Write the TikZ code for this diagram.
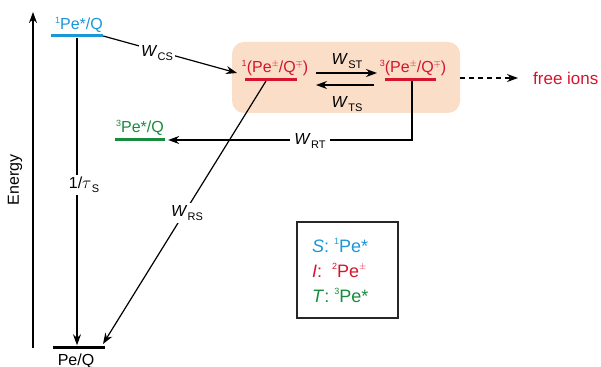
\documentclass[tikz,border=0pt]{standalone}
\usepackage{fontspec}
\setmainfont{Liberation Sans}
\usetikzlibrary{arrows.meta}
\definecolor{cblue}{RGB}{27,150,214}
\definecolor{cred}{RGB}{214,20,45}
\definecolor{cgreen}{RGB}{22,140,60}
\definecolor{cbox}{RGB}{250,222,200}
\newcommand\pre[1]{\raisebox{0.42em}{\fontsize{9}{9}\selectfont #1}}
\newcommand\chg[1]{\raisebox{0.42em}{\fontsize{9}{9}\selectfont$#1$}}
\newcommand\rate[1]{\textit{W}\kern0.3pt\raisebox{-0.28em}{\fontsize{11}{11}\selectfont #1}}
\begin{document}
\begin{tikzpicture}[x=1pt,y=-1pt,
  font=\fontsize{16}{18}\selectfont,
  >={Stealth[length=11pt,width=8pt]},
  level/.style={inner sep=0pt, minimum height=3pt, minimum width=52pt},
  arr/.style={->, line width=1.2pt},
  lab/.style={fill=white, inner sep=2pt},
  txt/.style={inner sep=0pt}]
\useasboundingbox (0,0) rectangle (601,366);

% energy axis
\coordinate (ebot) at (33,348);
\coordinate (etop) at (33,12);
\draw[arr] (ebot) -- (etop);
\node[rotate=90, txt] (energy) at (15,180) {Energy};

% box
\node[fill=cbox, rounded corners=12pt, minimum width=228pt, minimum height=71pt, inner sep=0pt] (box) at (346,77.5) {};

% levels
\node[level, fill=cblue] (s1) at (77,36) {};
\node[txt, text=cblue, anchor=base] (s1t) at (79,30) {\pre{1}Pe*/Q};
\node[level, fill=black] (g) at (79,347) {};
\node[txt, anchor=base] (gt) at (76,365) {Pe/Q};
\node[level, fill=cgreen, minimum width=50pt] (t3) at (140,140) {};
\node[txt, text=cgreen, anchor=base] (t3t) at (140,133) {\pre{3}Pe*/Q};
\node[level, fill=cred] (ip1) at (271,80) {};
\node[txt, text=cred, anchor=base] (ip1t) at (275,73) {\pre{1}(Pe\chg{\pm}/Q\chg{\mp})};
\node[level, fill=cred, minimum width=51pt] (ip3) at (410,80) {};
\node[txt, text=cred, anchor=base] (ip3t) at (413,73) {\pre{3}(Pe\chg{\pm}/Q\chg{\mp})};
\node[txt, text=cred, anchor=west, font=\fontsize{17}{19}\selectfont] (fi) at (533,78) {free ions};

% connectors
\coordinate (cstip) at (237,73);
\draw[arr] (s1.east) -- (cstip);
\node[lab] (wcs) at (157,53) {\rate{CS}};

\draw[arr] (s1.south) -- (s1.south |- g.north);
\node[lab] (tau) at (84,185) {1/$\tau$\kern0.3pt\raisebox{-0.28em}{\fontsize{11}{11}\selectfont S}};

\coordinate (rsstart) at (266,81);
\coordinate (rstip) at (103,344);
\draw[arr] (rsstart) -- (rstip);
\node[lab] (wrs) at (187,213) {\rate{RS}};

\coordinate (rtstart) at (412,81);
\draw[arr] (rtstart) |- ([xshift=3pt]t3.east);
\node[lab, inner sep=4pt] (wrt) at (310,141) {\rate{RT}};

\coordinate (sta) at (316,73);
\coordinate (stb) at (377,73);
\draw[arr] (sta) -- (stb);
\node[txt] (wst) at (347,61) {\rate{ST}};
\coordinate (tsa) at (374,85);
\coordinate (tsb) at (316,85);
\draw[arr] (tsa) -- (tsb);
\node[txt] (wts) at (347,104) {\rate{TS}};

\coordinate (fitip) at (518,78);
\draw[arr, dashed, dash pattern=on 5pt off 4pt] (box.east |- fi.west) -- (fitip);

% legend
\node[draw=black!85, line width=1.3pt, minimum width=101pt, minimum height=96pt, inner sep=0pt] (leg) at (347.5,270) {};
\begin{scope}[font=\fontsize{18}{20}\selectfont]
\node[txt, anchor=base west, text=cblue] (ls) at (312,252) {\textit{S}: \pre{1}Pe*};
\node[txt, anchor=base west, text=cred] (li) at (312,277) {\textit{I}:\ \ \pre{2}Pe\chg{\pm}};
\node[txt, anchor=base west, text=cgreen] (lt) at (312,302) {\textit{T}: \pre{3}Pe*};
\end{scope}
\end{tikzpicture}
\end{document}
